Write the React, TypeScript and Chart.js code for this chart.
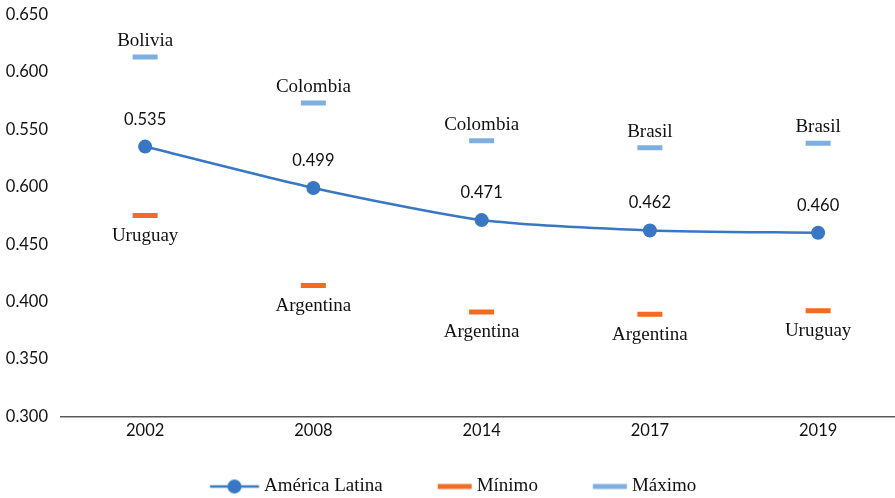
import React, { useEffect, useRef } from 'react';
import { Chart, registerables } from 'chart.js';

Chart.register(...registerables);

// ---- Data ----
const categories = ['2002', '2008', '2014', '2017', '2019'];
const latamValues = [0.535, 0.499, 0.471, 0.462, 0.46];
const minValues = [0.475, 0.414, 0.391, 0.389, 0.392];
const maxValues = [0.613, 0.573, 0.54, 0.534, 0.538];
const minCountries = ['Uruguay', 'Argentina', 'Argentina', 'Argentina', 'Uruguay'];
const maxCountries = ['Bolivia', 'Colombia', 'Colombia', 'Brasil', 'Brasil'];
const yTickValues = [0.3, 0.35, 0.4, 0.45, 0.5, 0.55, 0.6, 0.65];
const yTickLabels = ['0.300', '0.350', '0.400', '0.450', '0.600', '0.550', '0.600', '0.650'];
const seriesNames = ['América Latina', 'Mínimo', 'Máximo'];

// ---- Styles / layout ----
const BLUE = '#3877c3';
const ORANGE = '#f26b23';
const LIGHT = '#7db0e0';
const SANS = 'Lato, "Open Sans", sans-serif';
const SERIF = '"Liberation Serif", "DejaVu Serif", serif';
const CANVAS_W = 905;
const CANVAS_H = 506;
const PLOT_TOP = 14.5;
const PLOT_BOTTOM = 416.5;
const Y_AXIS_W = 61;
const LEGEND_FONT = 19;
const LEGEND_BOX_W = 48.5;
const LEGEND_PAD = 36;

const pointLabelPlugin = {
  id: 'pointLabelPlugin',
  afterDatasetsDraw(chart: any) {
    const ctx = chart.ctx;
    chart.data.datasets.forEach((ds: any, i: number) => {
      const cfg = ds.pointLabels;
      if (!cfg) return;
      const meta = chart.getDatasetMeta(i);
      ctx.save();
      ctx.font = cfg.font;
      ctx.fillStyle = cfg.color;
      ctx.textAlign = 'center';
      ctx.textBaseline = 'alphabetic';
      meta.data.forEach((el: any, j: number) => {
        ctx.fillText(cfg.texts[j], el.x, el.y + cfg.offset);
      });
      ctx.restore();
    });
  },
};

// Legend sample image: drawn centred on the legend box; content is right-aligned so
// that it ends 5px before the label text.
function makeLegendImage(kind: 'line' | 'min' | 'max'): HTMLCanvasElement {
  const c = document.createElement('canvas');
  const rightGap = LEGEND_FONT / 2 - 5;
  const w = Math.ceil(LEGEND_BOX_W + 2 * rightGap + 60);
  c.width = w;
  c.height = 20;
  const g = c.getContext('2d')!;
  const cy = 10;
  const end = w / 2 + LEGEND_BOX_W / 2 + rightGap;
  if (kind === 'line') {
    const x0 = end - 49;
    g.strokeStyle = BLUE;
    g.lineWidth = 2.5;
    g.beginPath();
    g.moveTo(x0, cy);
    g.lineTo(end, cy);
    g.stroke();
    g.fillStyle = BLUE;
    g.beginPath();
    g.arc(x0 + 24.5, cy, 7, 0, Math.PI * 2);
    g.fill();
  } else {
    g.strokeStyle = kind === 'min' ? ORANGE : LIGHT;
    g.lineWidth = 5;
    g.beginPath();
    g.moveTo(end - 34, cy);
    g.lineTo(end, cy);
    g.stroke();
  }
  return c;
}

export default function App() {
  const ref = useRef<HTMLCanvasElement | null>(null);

  useEffect(() => {
    if (!ref.current) return;
    const imgs = [makeLegendImage('line'), makeLegendImage('min'), makeLegendImage('max')];
    const chart = new Chart(ref.current, {
      type: 'line',
      data: {
        labels: categories,
        datasets: [
          {
            label: seriesNames[0],
            data: latamValues,
            borderColor: BLUE,
            backgroundColor: BLUE,
            borderWidth: 2.5,
            pointRadius: 7,
            pointHoverRadius: 7,
            pointBackgroundColor: BLUE,
            pointBorderWidth: 0,
            tension: 0.22,
            pointLabels: {
              texts: latamValues.map((v) => v.toFixed(3)),
              font: `16.5px ${SANS}`,
              color: '#111',
              offset: -22,
            },
          } as any,
          {
            label: seriesNames[1],
            data: minValues,
            showLine: false,
            borderColor: ORANGE,
            backgroundColor: ORANGE,
            pointStyle: 'line',
            pointRadius: 12.5,
            pointHoverRadius: 12.5,
            pointBorderWidth: 5,
            pointHoverBorderWidth: 5,
            pointLabels: {
              texts: minCountries,
              font: `19px ${SERIF}`,
              color: '#111',
              offset: 25.5,
            },
          } as any,
          {
            label: seriesNames[2],
            data: maxValues,
            showLine: false,
            borderColor: LIGHT,
            backgroundColor: LIGHT,
            pointStyle: 'line',
            pointRadius: 12.5,
            pointHoverRadius: 12.5,
            pointBorderWidth: 5,
            pointHoverBorderWidth: 5,
            pointLabels: {
              texts: maxCountries,
              font: `19px ${SERIF}`,
              color: '#111',
              offset: -11,
            },
          } as any,
        ],
      },
      options: {
        responsive: false,
        animation: false,
        events: [],
        layout: {
          autoPadding: false,
          padding: { top: PLOT_TOP, right: 2.75, bottom: 0, left: 0 },
        },
        plugins: {
          tooltip: { enabled: false },
          legend: {
            position: 'bottom',
            labels: {
              usePointStyle: true,
              pointStyleWidth: LEGEND_BOX_W,
              padding: LEGEND_PAD,
              color: '#111',
              font: { family: SERIF, size: LEGEND_FONT },
              generateLabels: () =>
                seriesNames.map((name, i) => ({
                  text: name,
                  pointStyle: imgs[i] as any,
                  fillStyle: 'transparent',
                  strokeStyle: 'transparent',
                  lineWidth: 0,
                  hidden: false,
                  datasetIndex: i,
                  fontColor: '#111',
                })),
            },
          },
        },
        scales: {
          x: {
            offset: true,
            grid: { display: false, drawTicks: false },
            border: { display: true, color: '#595959', width: 1.5 },
            ticks: { padding: 4.5, color: '#111', font: { family: SANS, size: 16.5 } },
            afterFit: (s: any) => {
              const lh = s.chart.legend ? s.chart.legend.height : 0;
              s.height = Math.max(CANVAS_H - lh - PLOT_BOTTOM, 1);
              s.paddingLeft = 0;
              s.paddingRight = 0;
            },
          },
          y: {
            min: 0.3,
            max: 0.65,
            grid: { display: false, drawTicks: false },
            border: { display: false },
            afterBuildTicks: (s: any) => {
              s.ticks = yTickValues.map((v) => ({ value: v }));
            },
            afterFit: (s: any) => {
              s.width = Y_AXIS_W;
              s.paddingTop = 0;
              s.paddingBottom = 0;
            },
            ticks: {
              padding: 13,
              color: '#111',
              font: { family: SANS, size: 16.5 },
              callback: (_v: any, i: number) => yTickLabels[i],
            },
          },
        },
      },
      plugins: [pointLabelPlugin],
    });
    return () => chart.destroy();
  }, []);

  return (
    <div
      style={{
        position: 'fixed',
        left: 0,
        top: 0,
        width: 895,
        height: 498,
        overflow: 'hidden',
        background: '#fff',
      }}
    >
      <canvas ref={ref} width={CANVAS_W} height={CANVAS_H} style={{ display: 'block' }} />
    </div>
  );
}
